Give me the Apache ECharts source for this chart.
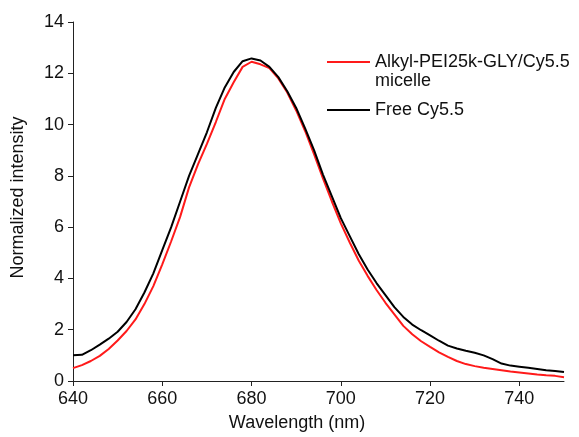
<!DOCTYPE html>
<html>
<head>
<meta charset="utf-8">
<script src="https://cdn.jsdelivr.net/npm/echarts@6/dist/echarts.min.js"></script>
<style>html,body{margin:0;padding:0;background:#fff;}#c{width:579px;height:437px;}</style>
</head>
<body>
<div id="c"></div>
<script>
const wavelengths = [640,642,644,646,648,650,652,654,656,658,660,662,664,666,668,670,672,674,676,678,680,682,684,686,688,690,692,694,696,698,700,702,704,706,708,710,712,714,716,718,720,722,724,726,728,730,732,734,736,738,740,742,744,746,748,750];
const micelle = [0.50,0.62,0.78,0.98,1.25,1.58,1.95,2.40,3.00,3.70,4.55,5.45,6.40,7.55,8.45,9.25,10.10,11.00,11.65,12.25,12.45,12.35,12.20,11.80,11.25,10.55,9.75,8.85,7.90,7.00,6.15,5.40,4.70,4.10,3.55,3.05,2.60,2.15,1.82,1.55,1.33,1.12,0.94,0.78,0.66,0.58,0.52,0.47,0.42,0.37,0.33,0.29,0.25,0.22,0.20,0.15];
const freeDye = [1.00,1.02,1.20,1.42,1.65,1.92,2.30,2.80,3.45,4.20,5.10,6.00,7.00,8.00,8.85,9.70,10.65,11.45,12.05,12.47,12.58,12.50,12.25,11.85,11.30,10.65,9.85,9.00,8.05,7.20,6.35,5.65,4.95,4.35,3.82,3.35,2.88,2.50,2.20,1.98,1.78,1.57,1.38,1.27,1.18,1.10,1.00,0.85,0.68,0.60,0.56,0.52,0.47,0.42,0.39,0.35];
const seriesNames = ['Alkyl-PEI25k-GLY/Cy5.5\nmicelle', 'Free Cy5.5'];
const xTitle = 'Wavelength (nm)';
const yTitle = 'Normalized intensity';

const font = 'Liberation Sans, Arial, sans-serif';
const chart = echarts.init(document.getElementById('c'));
chart.setOption({
  animation: false,
  grid: {left: 73, right: 15, top: 22, bottom: 56, containLabel: false, outerBoundsMode: 'none'},
  legend: {
    orient: 'vertical', left: 327, top: 34, padding: 0, itemGap: 11,
    itemWidth: 43, itemHeight: 2, icon: 'rect',
    data: seriesNames,
    formatter: function (name) {
      const parts = name.split('\n');
      if (parts.length > 1) return '{e| }\n{a|' + parts[0] + '}\n{a|' + parts[1] + '}';
      return '{a|' + name + '}';
    },
    textStyle: {
      fontFamily: font, fontSize: 18, color: '#111',
      rich: {
        a: {fontFamily: font, fontSize: 18, lineHeight: 19, color: '#111'},
        e: {fontFamily: font, fontSize: 18, lineHeight: 19}
      }
    }
  },
  xAxis: {
    type: 'value', min: 640, max: 750, interval: 20,
    name: xTitle, nameLocation: 'middle', nameGap: 33,
    nameTextStyle: {fontFamily: font, fontSize: 18, color: '#111', padding: [0, 43, 0, 0]},
    axisLine: {show: true, lineStyle: {color: '#222', width: 1}},
    axisTick: {show: true, inside: false, length: 5, lineStyle: {color: '#222'}},
    axisLabel: {fontFamily: font, fontSize: 18, color: '#111', margin: 9, showMaxLabel: false},
    splitLine: {show: false}
  },
  yAxis: {
    type: 'value', min: 0, max: 14, interval: 2,
    name: yTitle, nameLocation: 'middle', nameGap: 46, nameRotate: 90,
    nameTextStyle: {fontFamily: font, fontSize: 18, color: '#111', padding: [0, 0, 0, 8]},
    axisLine: {show: true, lineStyle: {color: '#222', width: 1}},
    axisTick: {show: true, inside: false, length: 5, lineStyle: {color: '#222'}},
    axisLabel: {fontFamily: font, fontSize: 18, color: '#111', margin: 9},
    splitLine: {show: false}
  },
  series: [
    {name: seriesNames[0], type: 'line', symbol: 'none', smooth: false,
     data: wavelengths.map((w, i) => [w, micelle[i]]),
     lineStyle: {color: '#ff1a1a', width: 2}, itemStyle: {color: '#ff1a1a'}, z: 2},
    {name: seriesNames[1], type: 'line', symbol: 'none', smooth: false,
     data: wavelengths.map((w, i) => [w, freeDye[i]]),
     lineStyle: {color: '#000', width: 2}, itemStyle: {color: '#000'}, z: 3}
  ]
});
</script>
</body>
</html>
